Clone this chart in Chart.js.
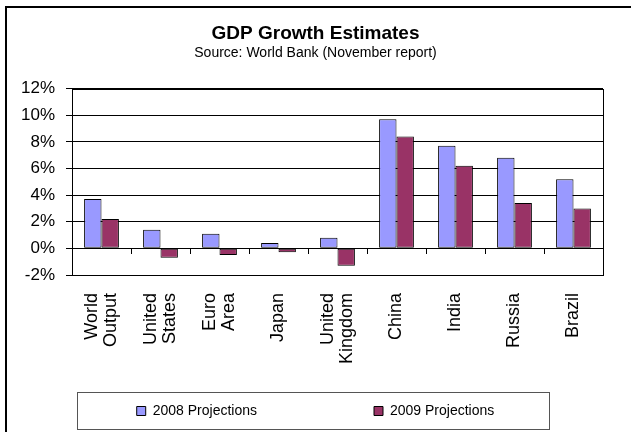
<!DOCTYPE html>
<html>
<head>
<meta charset="utf-8">
<script src="https://cdn.jsdelivr.net/npm/chart.js@4.4.0/dist/chart.umd.min.js"></script>
<style>
  body { margin: 0; background: #fff; overflow: hidden; }
  #frame { position: absolute; left: 5px; top: 6px; width: 700px; height: 500px; border: 2px solid #000; }
  #gdpChart { position: absolute; left: 0; top: 0; }
</style>
</head>
<body>
<div id="frame"></div>
<canvas id="gdpChart" width="631" height="432"></canvas>
<script>
// values (percent)
const categories = [
  ["World", "Output"], ["United", "States"], ["Euro", "Area"], "Japan",
  ["United", "Kingdom"], "China", "India", "Russia", "Brazil"
];
const projections2008 = [3.7, 1.4, 1.1, 0.4, 0.8, 9.7, 7.7, 6.8, 5.2];
const projections2009 = [2.2, -0.7, -0.5, -0.3, -1.3, 8.4, 6.2, 3.4, 3.0];
const seriesNames = ["2008 Projections", "2009 Projections"];
const yTicks = [-2, 0, 2, 4, 6, 8, 10, 12];

const FONT = "'Liberation Sans', Arial, sans-serif";
const LABEL_SIZE = 18, LABEL_LH = 1.1;

// one- and two-line names go on separate axes so both can be centred
const singleLine = categories.map(c => Array.isArray(c) ? "" : c);
const twoLine = categories.map(c => Array.isArray(c) ? c : "");

// box round the plot area and the legend
const framePlugin = {
  id: "frames",
  afterDraw(chart) {
    const ctx = chart.ctx;
    const a = chart.chartArea;
    ctx.save();
    ctx.strokeStyle = "#000";
    ctx.lineWidth = 1;
    ctx.strokeRect(Math.round(a.left) + 0.5, Math.round(a.top) + 0.5,
      Math.round(a.right - a.left), Math.round(a.bottom - a.top));

    const boxes = chart.legend.legendHitBoxes;
    if (boxes && boxes.length) {
      const first = boxes[0], last = boxes[boxes.length - 1];
      const mid = first.top + first.height / 2;
      ctx.strokeStyle = "#555";
      ctx.strokeRect(Math.round(first.left - 60) + 0.5, Math.round(mid - 19) + 0.5,
        Math.round(last.left + last.width + 54 - (first.left - 60)), 37);
    }
    ctx.restore();
  }
};

function labelAxis(labels, shift) {
  return {
    type: "category",
    labels: labels,
    position: { y: yTicks[0] },
    offset: true,
    grid: { display: false, drawTicks: false },
    border: { display: false },
    ticks: {
      color: "#000",
      font: { family: FONT, size: LABEL_SIZE, lineHeight: LABEL_LH },
      maxRotation: 90,
      minRotation: 90,
      autoSkip: false,
      padding: 18,
      labelOffset: shift
    }
  };
}

new Chart(document.getElementById("gdpChart").getContext("2d"), {
  type: "bar",
  data: {
    labels: categories,
    datasets: [
      {
        label: seriesNames[0],
        data: projections2008,
        backgroundColor: "#9999FF",
        borderColor: "#000",
        borderWidth: 1,
        borderSkipped: false
      },
      {
        label: seriesNames[1],
        data: projections2009,
        backgroundColor: "#993366",
        borderColor: "#000",
        borderWidth: 1,
        borderSkipped: false
      }
    ]
  },
  options: {
    responsive: false,
    animation: false,
    devicePixelRatio: 1,
    categoryPercentage: 0.59,
    barPercentage: 1.0,
    layout: { padding: { left: 0, right: 0, top: 22, bottom: 4 } },
    plugins: {
      title: {
        display: true,
        text: "GDP Growth Estimates",
        color: "#000",
        font: { family: FONT, size: 19, weight: "bold" },
        padding: { top: 0, bottom: 0 }
      },
      subtitle: {
        display: true,
        text: "Source: World Bank (November report)",
        color: "#000",
        font: { family: FONT, size: 14 },
        padding: { top: 0, bottom: 27 }
      },
      legend: {
        position: "bottom",
        labels: {
          color: "#000",
          font: { family: FONT, size: 14 },
          boxWidth: 9,
          boxHeight: 9,
          padding: 117
        }
      },
      tooltip: { enabled: false }
    },
    scales: {
      // index axis of the bars; only keeps the gap above the legend
      x: {
        grid: { display: false, drawTicks: false },
        border: { display: false },
        ticks: { display: false },
        afterFit(s) { s.height = 12; }
      },
      // category names, hung below the bottom of the plot
      xNames1: labelAxis(singleLine, 0),
      xNames2: labelAxis(twoLine, -LABEL_SIZE * LABEL_LH / 2),
      // category axis line with tick marks sitting on the 0% line
      xZero: {
        type: "category",
        position: { y: 0 },
        offset: true,
        grid: { drawOnChartArea: false, offset: true, tickLength: 5, color: "#000" },
        border: { display: true, color: "#000", width: 1 },
        ticks: { display: false }
      },
      y: {
        min: yTicks[0],
        max: yTicks[yTicks.length - 1],
        afterBuildTicks(s) { s.ticks = yTicks.map(v => ({ value: v })); },
        grid: { color: "#000", lineWidth: 1, tickLength: 6 },
        border: { display: true, color: "#000" },
        ticks: {
          color: "#000",
          font: { family: FONT, size: 17 },
          padding: 11,
          callback: v => v + "%"
        },
        afterFit(s) { s.width = 72; }
      },
      // empty right-hand space of the chart
      yRight: {
        position: "right",
        min: yTicks[0],
        max: yTicks[yTicks.length - 1],
        grid: { display: false },
        border: { display: false },
        ticks: { display: false },
        afterFit(s) { s.width = 28; }
      }
    }
  },
  plugins: [framePlugin]
});
</script>
</body>
</html>
